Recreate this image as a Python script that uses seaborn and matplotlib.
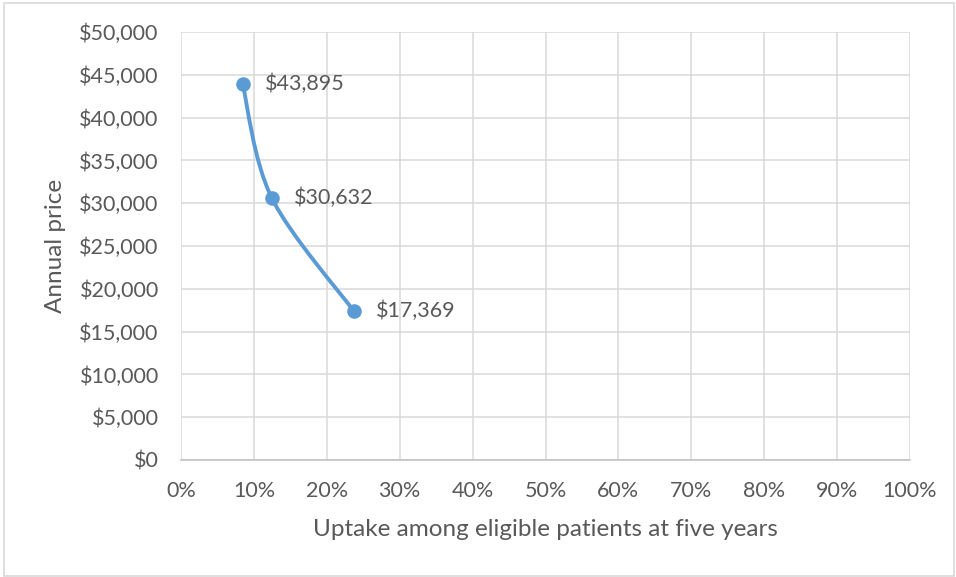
import numpy as np
import matplotlib
matplotlib.use("Agg")
import matplotlib.pyplot as plt
import seaborn as sns
from matplotlib.path import Path
from matplotlib.patches import PathPatch, Rectangle
from matplotlib.ticker import FuncFormatter, MultipleLocator

# values
uptake = [8.46, 12.44, 23.73]          # percent of eligible patients at five years
price = [43895, 30632, 17369]           # annual price, dollars
point_labels = ["$43,895", "$30,632", "$17,369"]

BLUE = "#5B9BD5"
TEXT = "#595959"
GRID = "#D9D9D9"


def smooth_path(xs, ys):
    """Excel-style smoothed line: Catmull-Rom segments as cubic Beziers."""
    pts = np.column_stack([xs, ys]).astype(float)
    ext = np.vstack([pts[0], pts, pts[-1]])
    verts = [pts[0]]
    codes = [Path.MOVETO]
    for i in range(1, len(ext) - 2):
        p0, p1, p2, p3 = ext[i - 1], ext[i], ext[i + 1], ext[i + 2]
        verts += [p1 + (p2 - p0) / 6, p2 - (p3 - p1) / 6, p2]
        codes += [Path.CURVE4] * 3
    return Path(verts, codes)


sns.set_style("white")
plt.rcParams["font.family"] = ["Lato", "DejaVu Sans"]

fig = plt.figure(figsize=(9.56, 5.77), dpi=100)
ax = fig.add_axes([181 / 956, 1 - 460 / 577, 729 / 956, 428 / 577])

ax.add_patch(PathPatch(smooth_path(uptake, price), facecolor="none",
                       edgecolor=BLUE, linewidth=2.8, capstyle="round", zorder=3))
sns.scatterplot(x=uptake, y=price, ax=ax, color=BLUE, s=110, edgecolor=BLUE,
                linewidth=0, zorder=4, legend=False)

for x, y, lab in zip(uptake, price, point_labels):
    ax.annotate(lab, (x, y), xytext=(16, 0), textcoords="offset points",
                ha="left", va="center", fontsize=15.5, color=TEXT)

ax.set_xlim(0, 100)
ax.set_ylim(0, 50000)
ax.xaxis.set_major_locator(MultipleLocator(10))
ax.yaxis.set_major_locator(MultipleLocator(5000))
ax.xaxis.set_major_formatter(FuncFormatter(lambda v, p: f"{v:.0f}%"))
ax.yaxis.set_major_formatter(FuncFormatter(lambda v, p: f"${v:,.0f}"))

ax.grid(True, color=GRID, linewidth=1.1)
ax.set_axisbelow(True)
for side in ["top", "right", "left"]:
    ax.spines[side].set_visible(False)
ax.spines["bottom"].set_color("#BFBFBF")
ax.spines["bottom"].set_linewidth(1.1)

ax.tick_params(axis="both", length=0, labelsize=15.5, labelcolor=TEXT)
ax.tick_params(axis="y", pad=16)
ax.tick_params(axis="x", pad=15)

ax.set_xlabel("Uptake among eligible patients at five years", fontsize=17.5, color=TEXT)
ax.set_ylabel("Annual price", fontsize=17.5, color=TEXT)
ax.xaxis.set_label_coords(0.5, (460 - 530) / 428)
ax.xaxis.label.set_va("center")
ax.yaxis.set_label_coords((56 - 181) / 729, 0.5)
ax.yaxis.label.set_va("center")

# chart area border
fig.patches.append(Rectangle((4 / 956, 1 / 577), 950 / 956, 573 / 577,
                             transform=fig.transFigure, fill=False,
                             edgecolor=GRID, linewidth=1.2))

fig.savefig("out.png", dpi=100)
